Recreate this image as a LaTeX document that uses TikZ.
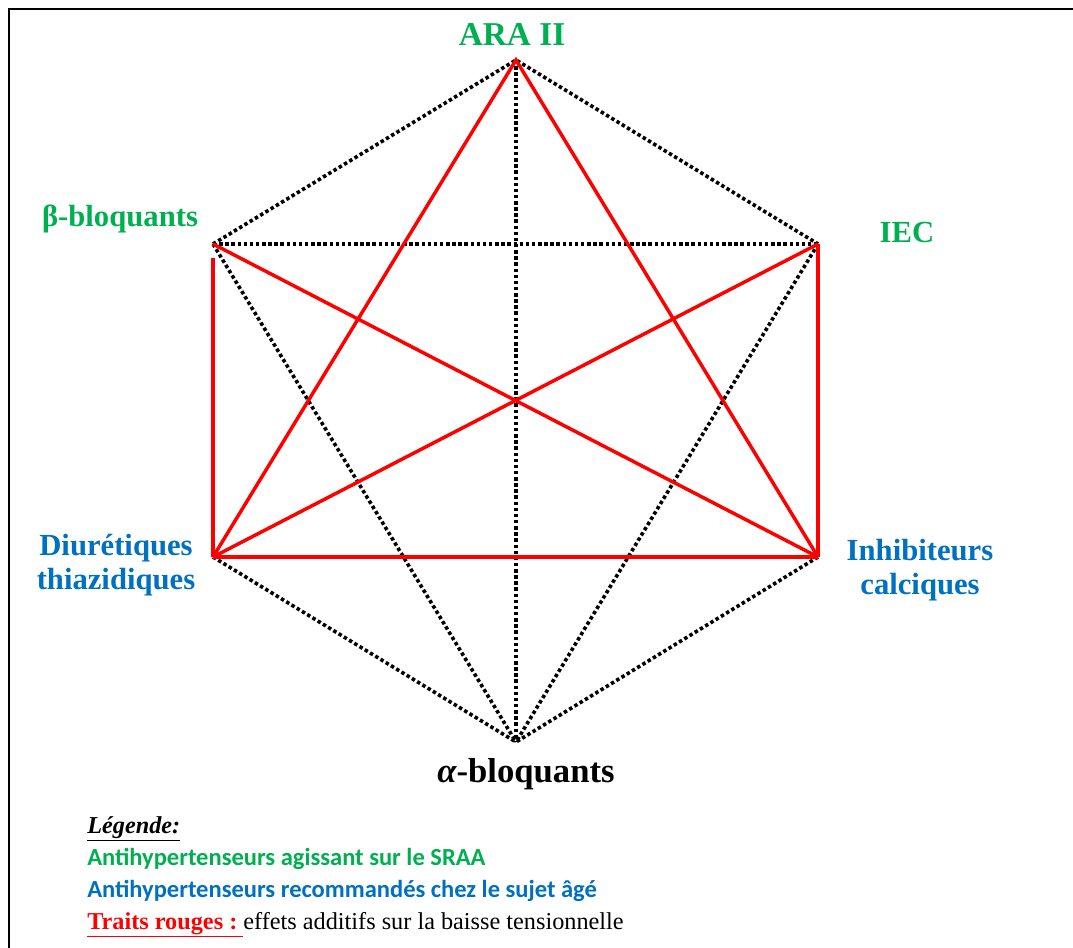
\documentclass[tikz,border=0pt]{standalone}
\usepackage{fontspec}
\setmainfont{Liberation Serif}
\newfontfamily\calib{Carlito}
\definecolor{ogreen}{RGB}{0,176,80}
\definecolor{oblue}{RGB}{0,112,192}
\begin{document}
\begin{tikzpicture}[x=0.75pt,y=-0.75pt,
  dotline/.style={black, line width=2.7pt, dash pattern=on 2.6pt off 2.0pt},
  redline/.style={red, line width=2.6pt},
  vlabel/.style={font=\fontsize{23}{26}\selectfont\bfseries, align=center, inner sep=0pt},
  leg/.style={anchor=base west, inner sep=0pt, font=\fontsize{18.2}{22}\selectfont}]
\useasboundingbox (0,0) rectangle (1073,948);
\clip (0,0) rectangle (1073,948);
\draw[line width=2.2pt] (9,960) -- (9,9) -- (1090,9);
% vertices
\coordinate (A) at (516,60);
\coordinate (B) at (213,244);
\coordinate (B2) at (213,258);
\coordinate (I) at (818,244);
\coordinate (D) at (213,557);
\coordinate (C) at (818,557);
\coordinate (X) at (516,742);
% dotted black
\draw[dotline] (B) -- (A) -- (I);
\draw[dotline] (B) -- (I);
\draw[dotline] (A) -- (X);
\draw[dotline] (B) -- (X);
\draw[dotline] (I) -- (X);
\draw[dotline] (D) -- (X);
\draw[dotline] (C) -- (X);
% red
\draw[redline] (D) -- (A) -- (C);
\draw[redline] (B) -- (C);
\draw[redline] (I) -- (D);
\draw[redline] (B2) -- (D);
\draw[redline] (I) -- (C);
\draw[redline] (D) -- (C);
% labels
\node[vlabel, anchor=base, text=ogreen, font=\fontsize{25}{28}\selectfont\bfseries] (ara) at (512,46) {ARA II};
\node[vlabel, anchor=base, text=ogreen] (beta) at (120,227) {β-bloquants};
\node[vlabel, anchor=base, text=ogreen] (iec) at (907,243) {IEC};
\node[vlabel, text=oblue] (diu) at (116,565) {Diurétiques\\thiazidiques};
\node[vlabel, text=oblue] (inh) at (920,570) {Inhibiteurs\\calciques};
\node[vlabel, anchor=base, font=\fontsize{26}{29}\selectfont\bfseries] (alpha) at (526,782) {{\itshape α}-bloquants};
% legend
\node[leg, font=\fontsize{18.2}{22}\selectfont\bfseries\itshape] (lg) at (87,833) {\underline{Légende:}};
\node[leg, font=\fontsize{18.4}{22}\selectfont\calib\bfseries, text=ogreen] (l1) at (87,865) {Antihypertenseurs agissant sur le SRAA};
\node[leg, font=\fontsize{18.4}{22}\selectfont\calib\bfseries, text=oblue] (l2) at (87,897) {Antihypertenseurs recommandés chez le sujet âgé};
\node[leg] (l3) at (87,929) {\textcolor{red}{\bfseries\underline{Traits rouges :~}}effets additifs sur la baisse tensionnelle};
\end{tikzpicture}
\end{document}
